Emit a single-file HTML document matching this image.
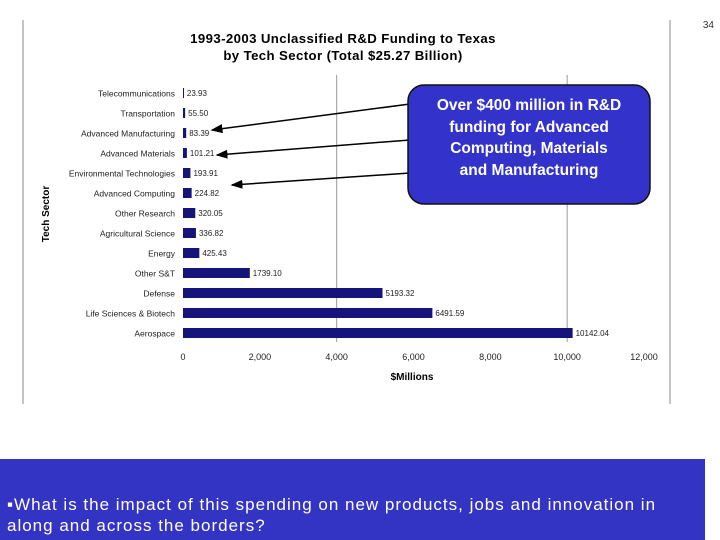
<!DOCTYPE html>
<html><head><meta charset="utf-8"><style>
body{margin:0;width:720px;height:540px;overflow:hidden;background:#fff;font-family:"Liberation Sans",sans-serif;position:relative}
.pg{position:absolute;right:6px;top:20px;font-size:10px;color:#333}
.bottom{position:absolute;left:0;top:459px;width:705px;height:81px;background:#3333c4;color:#fff;font-size:17px;line-height:21px;letter-spacing:1px}
.bottom div{position:absolute;left:7px;top:35px;white-space:nowrap}
</style></head><body>
<div class="pg">34</div>
<svg id="chart" width="720" height="460" style="position:absolute;left:0;top:0" font-family="Liberation Sans, sans-serif">
<line x1="23" y1="20" x2="23" y2="404" stroke="#888"/>
<line x1="670" y1="20" x2="670" y2="404" stroke="#888"/>
<text x="343" y="43" text-anchor="middle" font-size="13.2" letter-spacing="0.4" font-weight="bold">1993-2003 Unclassified R&amp;D Funding to Texas</text>
<text x="343" y="60" text-anchor="middle" font-size="13.2" letter-spacing="0.4" font-weight="bold">by Tech Sector (Total $25.27 Billion)</text>
<text transform="translate(49,214) rotate(-90)" text-anchor="middle" font-size="10" font-weight="bold">Tech Sector</text>
<text x="412" y="380" text-anchor="middle" font-size="10" font-weight="bold">$Millions</text>
<g id="grid"></g><g id="bars"></g><g id="ticks"></g>
</svg>
<svg width="720" height="460" style="position:absolute;left:0;top:0">
<defs><marker id="ah" markerWidth="8" markerHeight="6" refX="7" refY="3" orient="auto"><path d="M0,0 L8,3 L0,6 z" fill="#000"/></marker></defs>
<line x1="410" y1="104" x2="212" y2="130" stroke="#000" stroke-width="1.5" marker-end="url(#ah)"/>
<line x1="410" y1="140" x2="217" y2="155" stroke="#000" stroke-width="1.5" marker-end="url(#ah)"/>
<line x1="410" y1="173" x2="232" y2="185" stroke="#000" stroke-width="1.5" marker-end="url(#ah)"/>
<rect x="408" y="85" width="242" height="119" rx="16" fill="#3333cc" stroke="#111" stroke-width="1.5"/>
<g font-family="Liberation Sans, sans-serif" font-size="15.5" font-weight="bold" fill="#fff" text-anchor="middle">
<text x="529" y="110">Over $400 million in R&amp;D</text>
<text x="529" y="132">funding for Advanced</text>
<text x="529" y="153">Computing, Materials</text>
<text x="529" y="175">and Manufacturing</text>
</g>
</svg>
<div class="bottom"><div>▪What is the impact of this spending on new products, jobs and innovation in<br>along and across the borders?</div></div>
<script>
const categories=["Telecommunications","Transportation","Advanced Manufacturing","Advanced Materials","Environmental Technologies","Advanced Computing","Other Research","Agricultural Science","Energy","Other S&T","Defense","Life Sciences & Biotech","Aerospace"];
const values=[23.93,55.50,83.39,101.21,193.91,224.82,320.05,336.82,425.43,1739.10,5193.32,6491.59,10142.04];
const valueLabels=["23.93","55.50","83.39","101.21","193.91","224.82","320.05","336.82","425.43","1739.10","5193.32","6491.59","10142.04"];
const xTicks=[0,2000,4000,6000,8000,10000,12000];
const xTickLabels=["0","2,000","4,000","6,000","8,000","10,000","12,000"];
const gridValues=[4000,10000];
const NS="http://www.w3.org/2000/svg";
const x0=183,xMax=12000,xW=461;
const xs=v=>x0+v/xMax*xW;
const ys=i=>93+i*20;
function mk(t,a,p){const e=document.createElementNS(NS,t);for(const k in a)e.setAttribute(k,a[k]);p.appendChild(e);return e;}
const grid=document.getElementById('grid'),bars=document.getElementById('bars'),ticks=document.getElementById('ticks');
gridValues.forEach(v=>{const l=mk('line',{x1:xs(v),x2:xs(v),y1:75,y2:342,stroke:'#999'},grid);

});
categories.forEach((c,i)=>{
const y=ys(i);
const t=mk('text',{x:175,y:y+3.5,'text-anchor':'end','font-size':'8.5',fill:'#222'},bars);t.textContent=c;


const r=mk('rect',{x:x0,y:y-5,width:Math.max(1,xs(values[i])-x0),height:10,fill:'#14147a'},bars);


const v=mk('text',{x:xs(values[i])+3,y:y+3,'font-size':'8',fill:'#222'},bars);v.textContent=valueLabels[i];


});
xTicks.forEach((v,i)=>{const t=mk('text',{x:xs(v),y:360,'text-anchor':'middle','font-size':'9',fill:'#222'},ticks);t.textContent=xTickLabels[i];

});
</script>
</body></html>
